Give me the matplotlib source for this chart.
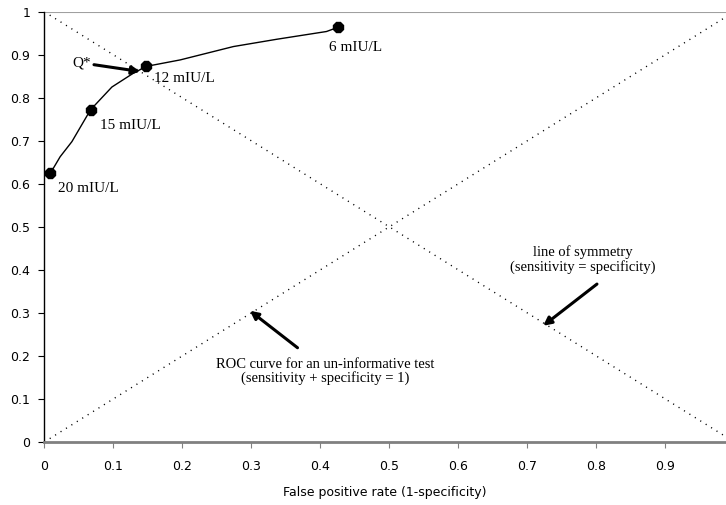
import matplotlib
matplotlib.use("Agg")
import matplotlib.pyplot as plt
import numpy as np

# ROC curve (traced points) and the labelled cut-offs
curve_x = [0.009, 0.023, 0.040, 0.067, 0.098, 0.129, 0.148, 0.197, 0.274, 0.337, 0.409, 0.426]
curve_y = [0.625, 0.663, 0.698, 0.772, 0.825, 0.857, 0.873, 0.888, 0.919, 0.936, 0.954, 0.964]
cut_x = [0.009, 0.067, 0.148, 0.426]
cut_y = [0.625, 0.772, 0.873, 0.964]
cut_labels = ["20 mIU/L", "15 mIU/L", "12 mIU/L", "6 mIU/L"]
label_pos = [(0.020, 0.588), (0.081, 0.735), (0.159, 0.844), (0.413, 0.917)]
ticks = [0, 0.1, 0.2, 0.3, 0.4, 0.5, 0.6, 0.7, 0.8, 0.9]
tick_labels = ["0", "0.1", "0.2", "0.3", "0.4", "0.5", "0.6", "0.7", "0.8", "0.9"]
yticks = [0, 0.1, 0.2, 0.3, 0.4, 0.5, 0.6, 0.7, 0.8, 0.9, 1]
ytick_labels = ["0", "0.1", "0.2", "0.3", "0.4", "0.5", "0.6", "0.7", "0.8", "0.9", "1"]
diag = [0, 1]

serif = "Liberation Serif"

fig = plt.figure(figsize=(7.26, 5.05), dpi=100)
ax = fig.add_axes([0.061, 0.1248, 0.939, 0.852])

# reference diagonals
ax.plot(diag, diag, color="black", lw=1.0, linestyle=(0, (0.8, 3.8)))
ax.plot(diag, diag[::-1], color="black", lw=1.0, linestyle=(0, (0.8, 3.8)))

# ROC curve
ax.plot(curve_x, curve_y, color="black", lw=1.0)
ax.plot(cut_x, cut_y, linestyle="none", marker="8", markersize=7.5, color="black")

for lab, (tx, ty) in zip(cut_labels, label_pos):
    ax.text(tx, ty, lab, ha="left", va="center", fontsize=11, family=serif)

arrow = dict(arrowstyle="-|>", lw=2.2, color="black", mutation_scale=12, shrinkA=0, shrinkB=0)
ax.annotate("Q*", xy=(0.139, 0.861), xytext=(0.041, 0.881), ha="left", va="center",
            fontsize=11, family=serif, arrowprops=arrow)
ax.annotate("", xy=(0.723, 0.27), xytext=(0.801, 0.367), arrowprops=arrow)
ax.text(0.781, 0.424, "line of symmetry\n(sensitivity = specificity)", ha="center", va="center",
        fontsize=10.5, family=serif, linespacing=1.05)
ax.annotate("", xy=(0.298, 0.305), xytext=(0.367, 0.219), arrowprops=arrow)
ax.text(0.407, 0.164, "ROC curve for an un-informative test\n(sensitivity + specificity = 1)",
        ha="center", va="center", fontsize=10.5, family=serif, linespacing=1.0)

ax.set_xlim(0, 0.988)
ax.set_ylim(0, 1)
ax.axhline(1, color="#a0a0a0", lw=1.5)
ax.set_xticks(ticks)
ax.set_xticklabels(tick_labels)
ax.set_yticks(yticks)
ax.set_yticklabels(ytick_labels)
ax.tick_params(axis="x", length=4, pad=9, labelsize=9, color="#808080")
ax.tick_params(axis="y", length=4, pad=6, labelsize=9)
ax.set_xlabel("False positive rate (1-specificity)", fontsize=9, labelpad=9)

for s in ["top", "right"]:
    ax.spines[s].set_visible(False)
ax.spines["bottom"].set_color("#808080")
ax.spines["bottom"].set_linewidth(2)
ax.spines["left"].set_linewidth(1)

fig.savefig("out.png", dpi=100)
